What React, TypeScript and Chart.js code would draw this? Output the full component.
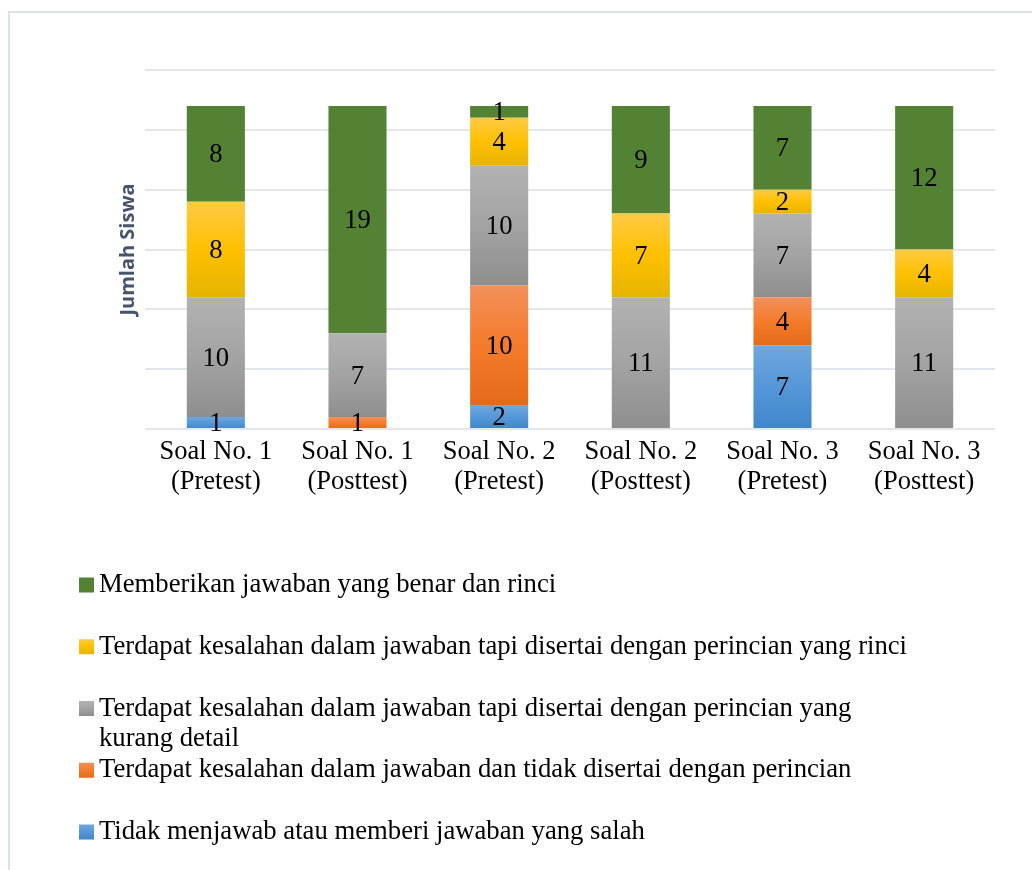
import React, { useEffect, useRef } from 'react';
import { Chart, registerables } from 'chart.js';

Chart.register(...registerables);

// ---- data ----
const categories: string[][] = [
  ['Soal No. 1', '(Pretest)'],
  ['Soal No. 1', '(Posttest)'],
  ['Soal No. 2', '(Pretest)'],
  ['Soal No. 2', '(Posttest)'],
  ['Soal No. 3', '(Pretest)'],
  ['Soal No. 3', '(Posttest)'],
];

const seriesNames: string[] = [
  'Tidak menjawab atau memberi jawaban yang salah',
  'Terdapat kesalahan dalam jawaban dan tidak disertai dengan perincian',
  'Terdapat kesalahan dalam jawaban tapi disertai dengan perincian yang kurang detail',
  'Terdapat kesalahan dalam jawaban tapi disertai dengan perincian yang rinci',
  'Memberikan jawaban yang benar dan rinci',
];

const tidakMenjawab: number[] = [1, 0, 2, 0, 7, 0];
const tanpaPerincian: number[] = [0, 1, 10, 0, 4, 0];
const kurangDetail: number[] = [10, 7, 10, 11, 7, 11];
const perincianRinci: number[] = [8, 0, 4, 7, 2, 4];
const benarRinci: number[] = [8, 19, 1, 9, 7, 12];

const seriesValues: number[][] = [tidakMenjawab, tanpaPerincian, kurangDetail, perincianRinci, benarRinci];

const yMin = 0;
const yMax = 30;
const yStep = 5;
const yTitle = 'Jumlah Siswa';

// ---- styles ----
const seriesStops: string[][] = [
  ['#70a7dd', '#5597d8', '#3f86ca'],
  ['#f2905b', '#f47b2b', '#e36b18'],
  ['#b2b2b2', '#a3a3a3', '#8e8e8e'],
  ['#ffca45', '#ffc000', '#e5b400'],
  ['#548235', '#548235', '#548235'],
];

const SERIF = '"Liberation Serif", "Times New Roman", serif';

function makeGradient(ctx: CanvasRenderingContext2D, y0: number, y1: number, stops: string[]) {
  if (!isFinite(y0) || !isFinite(y1) || Math.abs(y1 - y0) < 0.01) return stops[1];
  const g = ctx.createLinearGradient(0, y0, 0, y1);
  g.addColorStop(0, stops[0]);
  g.addColorStop(0.5, stops[1]);
  g.addColorStop(1, stops[2]);
  return g;
}

const dataLabelPlugin = {
  id: 'segmentLabels',
  afterDatasetsDraw(chart: any) {
    const ctx = chart.ctx as CanvasRenderingContext2D;
    ctx.save();
    ctx.font = `26.7px ${SERIF}`;
    ctx.fillStyle = '#000000';
    ctx.textAlign = 'center';
    ctx.textBaseline = 'middle';
    chart.data.datasets.forEach((ds: any, di: number) => {
      const meta = chart.getDatasetMeta(di);
      meta.data.forEach((el: any, i: number) => {
        const v = ds.data[i];
        if (!v) return;
        const p = el.getCenterPoint();
        ctx.fillText(String(v), p.x, p.y + 1.5);
      });
    });
    ctx.restore();
  },
};

function wrapText(ctx: CanvasRenderingContext2D, text: string, maxW: number): string[] {
  const words = text.split(' ');
  const lines: string[] = [];
  let cur = '';
  words.forEach((w) => {
    const test = cur ? cur + ' ' + w : w;
    if (ctx.measureText(test).width > maxW && cur) {
      lines.push(cur);
      cur = w;
    } else {
      cur = test;
    }
  });
  if (cur) lines.push(cur);
  return lines;
}

const legendPlugin = {
  id: 'stackLegend',
  afterDraw(chart: any) {
    const ctx = chart.ctx as CanvasRenderingContext2D;
    ctx.save();
    ctx.font = `26.7px ${SERIF}`;
    ctx.textBaseline = 'middle';
    ctx.textAlign = 'left';
    const n = chart.data.datasets.length;
    for (let k = 0; k < n; k++) {
      const di = n - 1 - k;
      const ds = chart.data.datasets[di];
      const cy = 585 + k * 61.75;
      ctx.fillStyle = makeGradient(ctx, cy - 7.5, cy + 7.5, seriesStops[di]) as any;
      ctx.fillRect(79, cy - 7.5, 15, 15);
      ctx.fillStyle = '#000000';
      const lines = wrapText(ctx, ds.label, 820);
      lines.forEach((ln, j) => ctx.fillText(ln, 99, cy + j * 30));
    }
    ctx.restore();
  },
};

export default function App() {
  const ref = useRef<HTMLCanvasElement | null>(null);

  useEffect(() => {
    if (!ref.current) return;
    const datasets = seriesValues.map((vals, si) => ({
      label: seriesNames[si],
      data: vals,
      borderWidth: 0,
      categoryPercentage: 1,
      barPercentage: 0.41,
      backgroundColor: (c: any) => {
        const stops = seriesStops[si];
        if (c.type !== 'data') return stops[1];
        const chart = c.chart;
        const ys = chart.scales && chart.scales.y;
        if (!ys) return stops[1];
        const i = c.dataIndex;
        let base = 0;
        for (let k = 0; k < si; k++) base += seriesValues[k][i];
        const top = base + vals[i];
        return makeGradient(chart.ctx, ys.getPixelForValue(top), ys.getPixelForValue(base), stops);
      },
    }));

    const chart = new Chart(ref.current, {
      type: 'bar',
      data: { labels: categories, datasets },
      options: {
        responsive: false,
        animation: false,
        devicePixelRatio: 1,
        layout: { padding: { left: 116, right: 37, top: 70, bottom: 341 } },
        plugins: {
          legend: { display: false },
          tooltip: { enabled: false },
        },
        scales: {
          x: {
            stacked: true,
            grid: { display: false, drawTicks: false },
            border: { display: false },
            ticks: {
              color: '#000000',
              font: { family: SERIF, size: 26.5, lineHeight: '30px' },
              padding: 8,
              autoSkip: false,
              maxRotation: 0,
              minRotation: 0,
            },
            afterFit: (s: any) => {
              s.height = 100;
            },
          },
          y: {
            stacked: true,
            min: yMin,
            max: yMax,
            ticks: { display: false, stepSize: yStep },
            grid: { color: '#e3e6eb', lineWidth: 2, drawTicks: false },
            border: { display: false },
            title: {
              display: true,
              text: yTitle,
              color: '#44546a',
              font: { family: '"Open Sans", sans-serif', size: 20, weight: 'bold', lineHeight: 1.2 },
              padding: 0,
            },
            afterFit: (s: any) => {
              s.width = 29;
            },
          },
        },
      },
      plugins: [dataLabelPlugin, legendPlugin],
    });
    return () => chart.destroy();
  }, []);

  return (
    <div
      style={{
        position: 'absolute',
        left: 0,
        top: 0,
        width: 1032,
        height: 870,
        overflow: 'hidden',
        background: '#ffffff',
      }}
    >
      <div
        style={{
          position: 'absolute',
          left: 8,
          top: 11,
          width: 1100,
          height: 1000,
          border: '2px solid #dee1e6',
        }}
      />
      <canvas ref={ref} width={1032} height={870} style={{ position: 'absolute', left: 0, top: 0 }} />
    </div>
  );
}
